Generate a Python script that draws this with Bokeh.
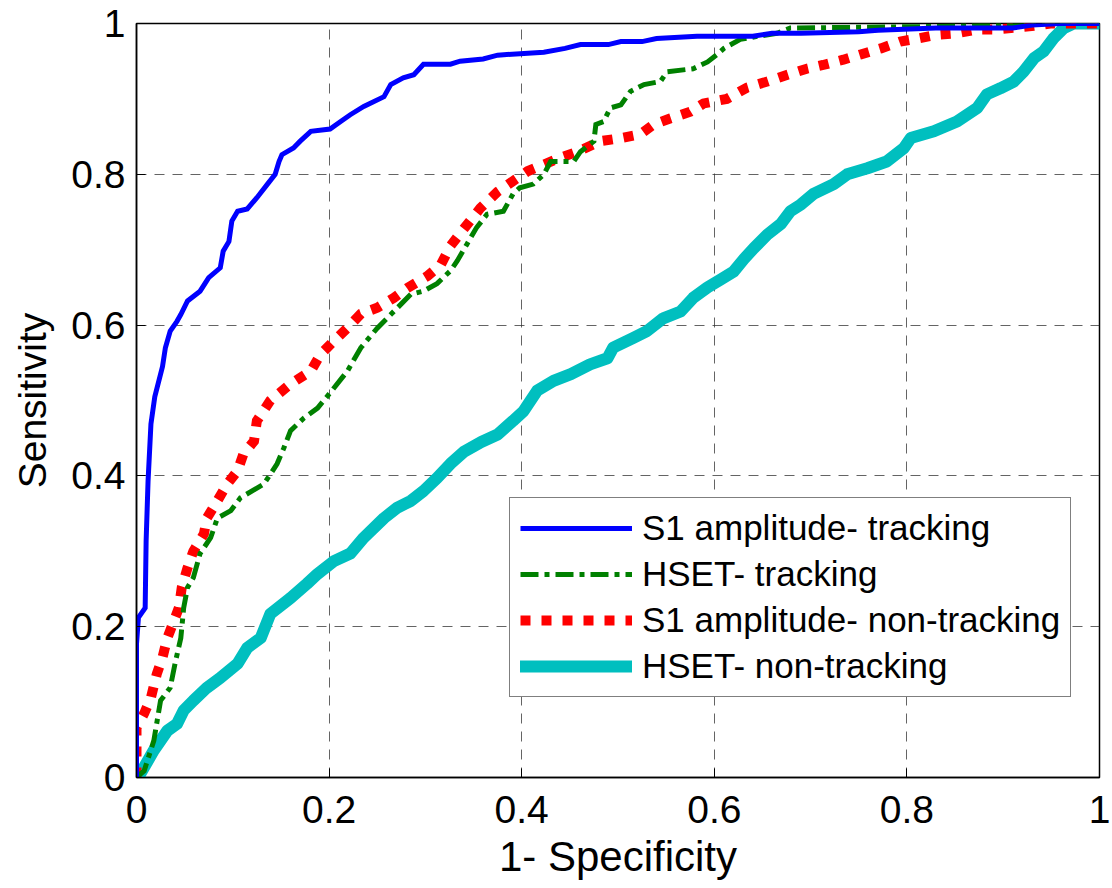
from bokeh.plotting import figure
from bokeh.models import Range1d, FixedTicker, Legend, LegendItem
from bokeh.embed import file_html
from bokeh.resources import INLINE

# ROC curve points (1 - specificity, sensitivity)
fpr_s1_trk = [0, 0, 0.002, 0.009, 0.010, 0.012, 0.015, 0.019, 0.024, 0.027,
              0.030, 0.035, 0.042, 0.046, 0.053, 0.066, 0.075, 0.087, 0.090, 0.096,
              0.099, 0.105, 0.115, 0.125, 0.136, 0.144, 0.148, 0.151, 0.163, 0.170,
              0.181, 0.201, 0.212, 0.222, 0.236, 0.257, 0.264, 0.277, 0.288, 0.298,
              0.326, 0.336, 0.360, 0.375, 0.423, 0.445, 0.461, 0.490, 0.503, 0.525,
              0.540, 0.582, 0.640, 0.660, 0.690, 0.750, 0.770, 0.830, 0.910, 0.930,
              0.960, 1.0]
tpr_s1_trk = [0, 0.177, 0.212, 0.225, 0.314, 0.393, 0.469, 0.505, 0.530, 0.545,
              0.570, 0.592, 0.605, 0.614, 0.632, 0.645, 0.663, 0.676, 0.698, 0.711,
              0.738, 0.751, 0.754, 0.769, 0.787, 0.800, 0.817, 0.826, 0.835, 0.844,
              0.857, 0.860, 0.870, 0.879, 0.890, 0.903, 0.919, 0.928, 0.932, 0.946,
              0.946, 0.950, 0.953, 0.958, 0.962, 0.967, 0.972, 0.972, 0.976, 0.976,
              0.980, 0.983, 0.983, 0.987, 0.987, 0.989, 0.991, 0.994, 0.994, 0.998,
              1.0, 1.0]

fpr_hset_trk = [0, 0.008, 0.018, 0.025, 0.035, 0.040, 0.046, 0.049, 0.053, 0.059,
                0.066, 0.077, 0.084, 0.098, 0.108, 0.132, 0.139, 0.146, 0.153, 0.160,
                0.174, 0.188, 0.201, 0.219, 0.233, 0.250, 0.264, 0.271, 0.285, 0.298,
                0.312, 0.326, 0.333, 0.343, 0.353, 0.364, 0.381, 0.391, 0.398, 0.412,
                0.423, 0.430, 0.454, 0.461, 0.475, 0.477, 0.485, 0.492, 0.503, 0.513,
                0.527, 0.544, 0.551, 0.578, 0.593, 0.603, 0.610, 0.627, 0.645, 0.665,
                0.679, 0.828, 0.900, 0.940, 1.0]
tpr_hset_trk = [0, 0.009, 0.049, 0.102, 0.119, 0.151, 0.185, 0.225, 0.252, 0.265,
                0.297, 0.318, 0.344, 0.354, 0.371, 0.389, 0.402, 0.416, 0.437, 0.460,
                0.477, 0.490, 0.510, 0.539, 0.570, 0.596, 0.614, 0.623, 0.641, 0.645,
                0.655, 0.672, 0.685, 0.707, 0.729, 0.747, 0.751, 0.774, 0.782, 0.787,
                0.800, 0.817, 0.817, 0.830, 0.844, 0.866, 0.870, 0.888, 0.892, 0.910,
                0.919, 0.923, 0.936, 0.940, 0.949, 0.959, 0.967, 0.979, 0.983, 0.987,
                0.994, 0.996, 0.998, 1.0, 1.0]

fpr_s1_non = [0, 0, 0.008, 0.015, 0.021, 0.027, 0.032, 0.039, 0.044, 0.047,
              0.053, 0.059, 0.070, 0.073, 0.084, 0.094, 0.105, 0.111, 0.122, 0.125,
              0.139, 0.160, 0.181, 0.191, 0.205, 0.219, 0.233, 0.250, 0.267, 0.281,
              0.302, 0.316, 0.326, 0.340, 0.357, 0.375, 0.391, 0.406, 0.423, 0.440,
              0.458, 0.482, 0.503, 0.523, 0.537, 0.554, 0.575, 0.589, 0.613, 0.634,
              0.655, 0.676, 0.696, 0.713, 0.734, 0.752, 0.773, 0.793, 0.811, 0.831,
              0.852, 0.873, 0.890, 0.908, 0.932, 0.949, 1.0]
tpr_s1_non = [0, 0.066, 0.085, 0.106, 0.137, 0.159, 0.185, 0.208, 0.225, 0.252,
              0.278, 0.300, 0.323, 0.344, 0.367, 0.389, 0.407, 0.429, 0.446, 0.473,
              0.500, 0.522, 0.539, 0.561, 0.579, 0.596, 0.615, 0.623, 0.636, 0.649,
              0.665, 0.680, 0.705, 0.728, 0.755, 0.777, 0.791, 0.804, 0.813, 0.822,
              0.830, 0.844, 0.848, 0.853, 0.866, 0.874, 0.883, 0.894, 0.900, 0.915,
              0.923, 0.932, 0.940, 0.945, 0.952, 0.959, 0.967, 0.976, 0.980, 0.985,
              0.987, 0.992, 0.992, 0.994, 0.997, 1.0, 1.0]

fpr_hset_non = [0, 0.004, 0.018, 0.032, 0.042, 0.049, 0.059, 0.073, 0.087, 0.105,
                0.115, 0.129, 0.139, 0.160, 0.177, 0.188, 0.205, 0.222, 0.236, 0.257,
                0.271, 0.285, 0.298, 0.312, 0.326, 0.340, 0.358, 0.375, 0.391, 0.402,
                0.416, 0.433, 0.451, 0.471, 0.489, 0.495, 0.516, 0.530, 0.547, 0.565,
                0.578, 0.593, 0.606, 0.620, 0.631, 0.641, 0.655, 0.669, 0.679, 0.690,
                0.703, 0.724, 0.738, 0.759, 0.779, 0.797, 0.804, 0.828, 0.852, 0.873,
                0.883, 0.897, 0.911, 0.921, 0.932, 0.942, 0.952, 0.963, 0.973, 1.0]
tpr_hset_non = [0, 0.005, 0.036, 0.062, 0.071, 0.089, 0.102, 0.119, 0.132, 0.151,
                0.172, 0.185, 0.217, 0.238, 0.257, 0.270, 0.287, 0.297, 0.318, 0.344,
                0.358, 0.367, 0.380, 0.397, 0.416, 0.432, 0.445, 0.455, 0.473, 0.486,
                0.513, 0.526, 0.535, 0.548, 0.556, 0.570, 0.583, 0.592, 0.609, 0.618,
                0.636, 0.650, 0.660, 0.671, 0.688, 0.702, 0.720, 0.734, 0.751, 0.760,
                0.774, 0.787, 0.800, 0.808, 0.817, 0.835, 0.848, 0.857, 0.870, 0.888,
                0.906, 0.914, 0.923, 0.936, 0.954, 0.963, 0.980, 0.994, 1.0, 1.0]

labels = ["S1 amplitude- tracking", "HSET- tracking",
          "S1 amplitude- non-tracking", "HSET- non-tracking"]
ticks = [0, 0.2, 0.4, 0.6, 0.8, 1.0]
tick_labels = {0: "0", 0.2: "0.2", 0.4: "0.4", 0.6: "0.6", 0.8: "0.8", 1.0: "1"}

FONT = "Liberation Sans"

p = figure(width=1112, height=888, output_backend="svg", toolbar_location=None,
           x_range=Range1d(0, 1), y_range=Range1d(0, 1),
           min_border_left=136, min_border_right=13,
           min_border_top=23, min_border_bottom=111)
p.background_fill_color = "white"
p.border_fill_color = "white"
p.outline_line_color = "black"
p.outline_line_width = 1.5

for ax in (p.xaxis[0], p.yaxis[0]):
    ax.ticker = FixedTicker(ticks=ticks)
    ax.major_label_overrides = tick_labels
    ax.major_label_text_font = FONT
    ax.major_label_text_font_size = "39px"
    ax.major_label_text_color = "black"
    ax.axis_label_text_font = FONT
    ax.axis_label_text_font_style = "normal"
    ax.axis_label_text_color = "black"
    ax.axis_line_color = "black"
    ax.axis_line_width = 1.5
    ax.major_tick_in = 9
    ax.major_tick_out = 0
    ax.major_tick_line_color = "black"
    ax.minor_tick_line_color = None

p.xaxis.axis_label = "1- Specificity"
p.yaxis.axis_label = "Sensitivity"
p.xaxis.axis_label_text_font_size = "42px"
p.yaxis.axis_label_text_font_size = "39px"
p.xaxis.major_label_standoff = 18
p.xaxis.axis_label_standoff = 7
p.yaxis.major_label_standoff = 11
p.yaxis.axis_label_standoff = 14

for g in (p.xgrid[0], p.ygrid[0]):
    g.grid_line_color = "#303030"
    g.grid_line_alpha = 0.75
    g.grid_line_width = 1
    g.grid_line_dash = "10 8"

r_cyan = p.line(fpr_hset_non, tpr_hset_non, line_color="#00BFBF", line_width=12,
                line_join="round", line_cap="round")
r_red = p.line(fpr_s1_non, tpr_s1_non, line_color="#FF0000", line_width=10,
               line_dash="10 11", line_join="miter", line_cap="butt")
r_green = p.line(fpr_hset_trk, tpr_hset_trk, line_color="#008000", line_width=5,
                 line_dash="18 6 5 6", line_join="miter")
r_blue = p.line(fpr_s1_trk, tpr_s1_trk, line_color="#0000FF", line_width=5,
                line_join="miter")

legend = Legend(items=[LegendItem(label=labels[0], renderers=[r_blue]),
                       LegendItem(label=labels[1], renderers=[r_green]),
                       LegendItem(label=labels[2], renderers=[r_red]),
                       LegendItem(label=labels[3], renderers=[r_cyan])],
                location=(373, 80))
legend.label_text_font = FONT
legend.label_text_font_size = "35px"
legend.label_text_color = "black"
legend.glyph_width = 112
legend.glyph_height = 38
legend.label_height = 38
legend.label_standoff = 10
legend.spacing = 6
legend.padding = 10
legend.border_line_color = "black"
legend.border_line_width = 1.5
legend.background_fill_color = "white"
legend.background_fill_alpha = 1.0
p.add_layout(legend, "center")

open("out.html", "w").write(file_html(p, INLINE))
